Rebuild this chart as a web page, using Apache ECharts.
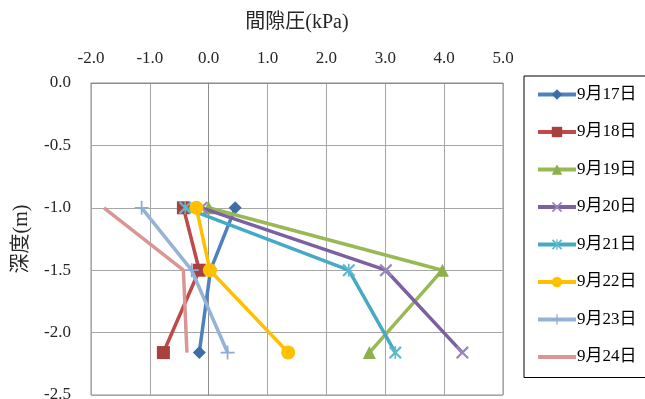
<!DOCTYPE html>
<html>
<head>
<meta charset="utf-8">
<script src="https://cdn.jsdelivr.net/npm/echarts@6/dist/echarts.min.js"></script>
<style>
  html, body { margin: 0; padding: 0; background: #fff; }
  #chart { width: 645px; height: 399px; }
</style>
</head>
<body>
<div id="chart"></div>
<script>
// Pore pressure (kPa) by depth (m), one profile per day
const depths = [-1.0, -1.5, -2.16];
const seriesNames = ['9月17日', '9月18日', '9月19日', '9月20日', '9月21日', '9月22日', '9月23日', '9月24日'];
const p0917 = [0.45, 0.03, -0.16];
const p0918 = [-0.43, -0.16, -0.77];
const p0919 = [0.0, 3.97, 2.73];
const p0920 = [-0.12, 3.01, 4.31];
const p0921 = [-0.40, 2.38, 3.17];
const p0922 = [-0.21, 0.02, 1.35];
const p0923 = [-1.14, -0.29, 0.32];
const p0924 = [-1.78, -0.43, -0.37];
const xTicks = { min: -2, max: 5, step: 1 };
const yTicks = { min: -2.5, max: 0, step: 0.5 };

const pressures = [p0917, p0918, p0919, p0920, p0921, p0922, p0923, p0924];

const serif = "'Liberation Serif', 'Noto Sans CJK JP', serif";

const X_PATH = 'path://M0,1.2 L1.2,0 L10,8.8 L8.8,10 Z M8.8,0 L10,1.2 L1.2,10 L0,8.8 Z';
const STAR_PATH = 'path://M0,1.2 L1.2,0 L10,8.8 L8.8,10 Z M8.8,0 L10,1.2 L1.2,10 L0,8.8 Z M4.4,0 L5.6,0 L5.6,10 L4.4,10 Z';
const PLUS_PATH = 'path://M4.4,0 L5.6,0 L5.6,10 L4.4,10 Z M0,4.4 L10,4.4 L10,5.6 L0,5.6 Z';
const BAR_PATH = 'path://M0,0 L38,0 L38,4 L0,4 Z';

const styles = [
  { line: '#4F81BD', mark: '#3D6EA6', symbol: 'diamond', size: 13 },
  { line: '#BE4B48', mark: '#A8403D', symbol: 'rect', size: 13 },
  { line: '#98B954', mark: '#8DB04C', symbol: 'triangle', size: 13 },
  { line: '#7D60A0', mark: '#9A86BC', symbol: X_PATH, size: 13 },
  { line: '#46AAC5', mark: '#5FB8D0', symbol: STAR_PATH, size: 13 },
  { line: '#FFC000', mark: '#FFC000', symbol: 'circle', size: 14 },
  { line: '#95B3D7', mark: '#8EACD3', symbol: PLUS_PATH, size: 14 },
  { line: '#D99694', mark: '#D99694', symbol: 'none', size: 0 }
];

const series = seriesNames.map((name, i) => ({
  name: name,
  type: 'line',
  data: pressures[i].map((v, k) => [v, depths[k]]),
  symbol: styles[i].symbol,
  symbolSize: styles[i].size,
  showAllSymbol: true,
  lineStyle: { color: styles[i].line, width: 3.5 },
  itemStyle: { color: styles[i].mark, borderWidth: 0 },
  emphasis: { disabled: true },
  animation: false,
  z: 2 + i
}));

// the last day has no marker, so its legend entry is a plain bar
const legendData = seriesNames.map((name, i) =>
  styles[i].symbol === 'none' ? { name: name, icon: BAR_PATH } : { name: name });

const chart = echarts.init(document.getElementById('chart'), null, { renderer: 'canvas' });
chart.setOption({
  backgroundColor: '#fff',
  animation: false,
  grid: {
    left: 91, right: 142, top: 83, bottom: 4,
    outerBoundsMode: 'none',
    containLabel: false,
    show: true, borderColor: '#8C8C8C', borderWidth: 1, backgroundColor: 'transparent'
  },
  xAxis: {
    type: 'value',
    position: 'top',
    min: xTicks.min, max: xTicks.max, interval: xTicks.step,
    name: '間隙圧(kPa)',
    nameLocation: 'middle',
    nameGap: 50,
    nameTextStyle: { fontFamily: serif, fontSize: 20, color: '#262626' },
    axisLine: { show: true, lineStyle: { color: '#8C8C8C' } },
    axisTick: { show: false },
    axisLabel: {
      margin: 16, fontFamily: serif, fontSize: 17, color: '#262626',
      formatter: v => v.toFixed(1)
    },
    splitLine: { show: true, lineStyle: { color: '#A6A6A6', width: 1 } }
  },
  yAxis: {
    type: 'value',
    min: yTicks.min, max: yTicks.max, interval: yTicks.step,
    name: '深度(m)',
    nameLocation: 'middle',
    nameGap: 59,
    nameTextStyle: { fontFamily: serif, fontSize: 20, color: '#262626' },
    axisLine: { show: true, lineStyle: { color: '#8C8C8C' } },
    axisTick: { show: false },
    axisLabel: {
      margin: 20, fontFamily: serif, fontSize: 17, color: '#262626',
      formatter: v => v.toFixed(1)
    },
    splitLine: { show: true, lineStyle: { color: '#A6A6A6', width: 1 } }
  },
  legend: {
    orient: 'vertical',
    left: 524,
    top: 76,
    padding: [10, 40, 12, 12],
    borderColor: '#000',
    borderWidth: 1,
    itemWidth: 38,
    itemHeight: 13,
    itemGap: 20.5,
    symbolKeepAspect: true,
    selectedMode: false,
    lineStyle: { width: 4 },
    textStyle: { fontFamily: serif, fontSize: 17, lineHeight: 17, color: '#000', padding: [0, 0, 0, -4] },
    data: legendData
  },
  series: series
});
</script>
</body>
</html>
